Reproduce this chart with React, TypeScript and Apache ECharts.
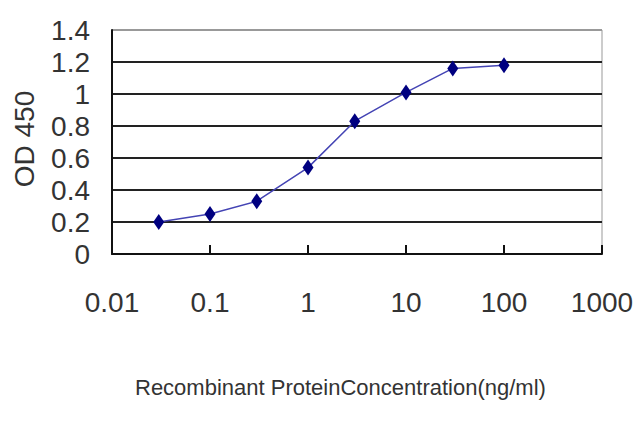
import { useRef, useEffect } from "react";
import * as echarts from "echarts";

// 浓度 (ng/ml) 与 OD450 读数
const concentrations = [0.03, 0.1, 0.3, 1, 3, 10, 30, 100];
const odValues = [0.2, 0.25, 0.33, 0.54, 0.83, 1.01, 1.16, 1.18];
const xTickLabels = ["0.01", "0.1", "1", "10", "100", "1000"];
const yTickLabels = ["0", "0.2", "0.4", "0.6", "0.8", "1", "1.2", "1.4"];

const xTitle = "Recombinant ProteinConcentration(ng/ml)";
const yTitle = "OD 450";

const FONT = "'Liberation Sans', Arial, sans-serif";

const App = () => {
  const chartRef = useRef<HTMLDivElement>(null);

  useEffect(() => {
    const chart = echarts.init(chartRef.current, null, { renderer: "svg" });

    const option = {
      animation: false,
      backgroundColor: "#fff",
      grid: {
        left: 112,
        right: 38,
        top: 30,
        bottom: 173,
        show: true,
        borderColor: "#999",
        borderWidth: 1,
      },
      xAxis: {
        type: "log",
        logBase: 10,
        min: 0.01,
        max: 1000,
        axisLine: { lineStyle: { color: "#111", width: 2 } },
        axisTick: { inside: true, length: 9, lineStyle: { color: "#111", width: 2 } },
        axisLabel: {
          margin: 34,
          fontFamily: FONT,
          fontSize: 28,
          color: "#333",
          formatter: (v: number) => xTickLabels[Math.round(Math.log10(v)) + 2] ?? String(v),
        },
        splitLine: { show: false },
      },
      yAxis: {
        type: "value",
        min: 0,
        max: 1.4,
        interval: 0.2,
        axisLine: { show: true, lineStyle: { color: "#111", width: 2 } },
        axisTick: { show: false },
        axisLabel: {
          margin: 22,
          fontFamily: FONT,
          fontSize: 28,
          color: "#333",
          formatter: (v: number) => yTickLabels[Math.round(v / 0.2)] ?? String(v),
        },
        splitLine: {
          show: true,
          lineStyle: {
            color: ["#222", "#222", "#222", "#222", "#222", "#222", "#222", "#999"],
            width: 2,
          },
        },
      },
      series: [
        {
          type: "line",
          data: concentrations.map((c, i) => [c, odValues[i]]),
          symbol: "diamond",
          symbolSize: [11, 16],
          itemStyle: { color: "#000080" },
          lineStyle: { color: "#4444b4", width: 1.5 },
        },
      ],
      graphic: [
        {
          type: "text",
          left: 135,
          top: 376,
          style: {
            text: xTitle,
            font: "22px 'Liberation Sans', Arial, sans-serif",
            fill: "#333",
          },
        },
        {
          type: "text",
          x: 24,
          y: 139,
          rotation: Math.PI / 2,
          style: {
            text: yTitle,
            font: "28px 'Liberation Sans', Arial, sans-serif",
            fill: "#333",
            align: "center",
            verticalAlign: "middle",
          },
        },
      ],
    };

    chart.setOption(option);

    return () => {
      chart.dispose();
    };
  }, []);

  return (
    <div
      ref={chartRef}
      style={{ position: "fixed", left: 0, top: 0, width: "640px", height: "427px" }}
    ></div>
  );
};

export default App;
